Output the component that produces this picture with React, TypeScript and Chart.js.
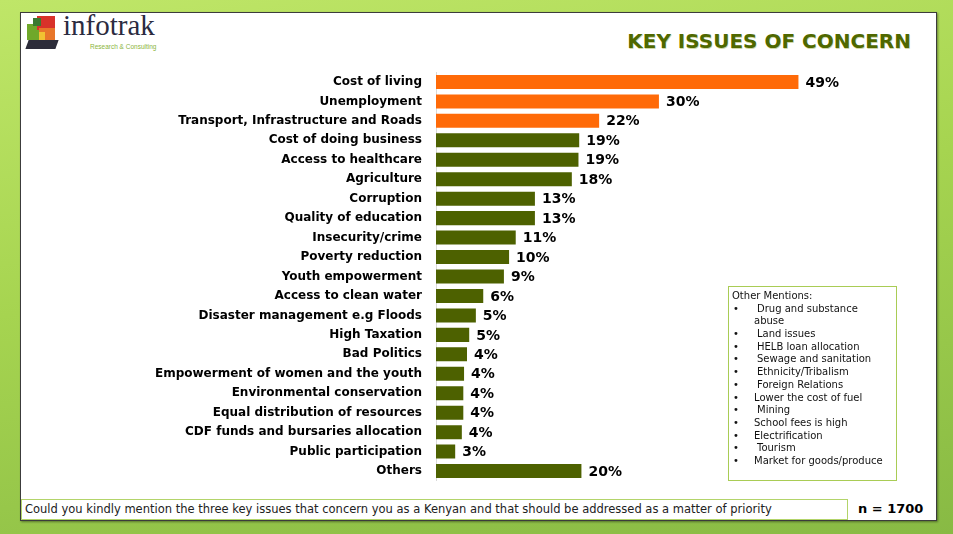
import React, { useEffect, useRef } from "react";
import { Chart, registerables } from "chart.js";

Chart.register(...registerables);

const categories = [
  "Cost of living",
  "Unemployment",
  "Transport, Infrastructure and Roads",
  "Cost of doing business",
  "Access to healthcare",
  "Agriculture",
  "Corruption",
  "Quality of education",
  "Insecurity/crime",
  "Poverty reduction",
  "Youth empowerment",
  "Access to clean water",
  "Disaster management e.g Floods",
  "High Taxation",
  "Bad Politics",
  "Empowerment of women and the youth",
  "Environmental conservation",
  "Equal distribution of resources",
  "CDF funds and bursaries allocation",
  "Public participation",
  "Others",
];

const barValues = [49.1, 30.2, 22.1, 19.4, 19.3, 18.4, 13.4, 13.4, 10.8, 9.9, 9.2, 6.4, 5.4, 4.5, 4.2, 3.8, 3.7, 3.7, 3.5, 2.6, 19.7];
const labelValues = [49, 30, 22, 19, 19, 18, 13, 13, 11, 10, 9, 6, 5, 5, 4, 4, 4, 4, 4, 3, 20];
const highlightedCount = 3;

const otherMentions: [string, boolean][] = [
  ["Drug and substance", true],
  ["abuse", false],
  ["Land issues", true],
  ["HELB loan allocation", true],
  ["Sewage and sanitation", true],
  ["Ethnicity/Tribalism", true],
  ["Foreign Relations", true],
  ["Lower the cost of fuel", false],
  ["Mining", true],
  ["School fees is high", false],
  ["Electrification", false],
  ["Tourism", true],
  ["Market for goods/produce", false],
];

const ORANGE = "#ff6a08";
const GREEN = "#4d6100";

const valueLabelPlugin = {
  id: "valueLabels",
  afterDatasetsDraw(chart: any) {
    const ctx = chart.ctx;
    const meta = chart.getDatasetMeta(0);
    ctx.save();
    ctx.font = "bold 14px 'DejaVu Sans'";
    ctx.fillStyle = "#000";
    ctx.textAlign = "left";
    ctx.textBaseline = "middle";
    meta.data.forEach((bar: any, i: number) => {
      ctx.fillText(labelValues[i] + "%", bar.x + 7, bar.y + 1);
    });
    ctx.restore();
  },
};

function Logo() {
  return (
    <div style={{ position: "absolute", left: 25, top: 14, width: 34, height: 36 }}>
      <div style={{ position: "absolute", left: 2, top: 10, width: 12, height: 16, background: "#6fa82a" }} />
      <div style={{ position: "absolute", left: 12, top: 2, width: 18, height: 14, background: "#d8322a" }} />
      <div style={{ position: "absolute", left: 14, top: 14, width: 16, height: 14, background: "#e8762a" }} />
      <div style={{ position: "absolute", left: 8, top: 4, width: 8, height: 8, background: "#3a7a30" }} />
      <div style={{ position: "absolute", left: 2, top: 26, width: 30, height: 9, background: "#2c2c3a", transform: "skewX(-20deg)" }} />
      <div style={{ position: "absolute", left: 14, top: 18, width: 6, height: 8, background: "#f1c232" }} />
    </div>
  );
}

export default function App() {
  const canvasRef = useRef<HTMLCanvasElement | null>(null);

  useEffect(() => {
    if (!canvasRef.current) return;
    const chart = new Chart(canvasRef.current, {
      type: "bar",
      data: {
        labels: categories,
        datasets: [
          {
            data: barValues,
            backgroundColor: barValues.map((_, i) => (i < highlightedCount ? ORANGE : GREEN)),
            borderWidth: 0,
            barPercentage: 0.72,
            categoryPercentage: 1.0,
          },
        ],
      },
      options: {
        indexAxis: "y",
        animation: false,
        responsive: false,
        maintainAspectRatio: false,
        devicePixelRatio: 1,
        layout: { padding: 0 },
        scales: {
          x: { display: false, min: 0, max: 55 },
          y: {
            afterFit: (scale: any) => {
              scale.width = 306;
            },
            grid: { display: false },
            border: { display: true, color: "#d9d9d9", width: 1 },
            ticks: {
              color: "#000",
              autoSkip: false,
              padding: 6,
              font: { family: "'DejaVu Sans'", weight: "bold", size: 12 },
            },
          },
        },
        plugins: {
          legend: { display: false },
          tooltip: { enabled: false },
        },
      },
      plugins: [valueLabelPlugin],
    } as any);
    return () => chart.destroy();
  }, []);

  return (
    <div
      style={{
        position: "absolute",
        left: 0,
        top: 0,
        width: 953,
        height: 534,
        overflow: "hidden",
        background: "linear-gradient(170deg, #bfe668 0%, #a6d450 45%, #88ba44 100%)",
      }}
    >
      <div
        style={{
          position: "absolute",
          left: 20,
          top: 12,
          width: 915,
          height: 507,
          background: "#fff",
          border: "1px solid #3c3c3c",
          boxShadow: "1px 1px 2px rgba(0,0,0,0.4)",
        }}
      />
      <Logo />
      <div
        style={{
          position: "absolute",
          left: 63,
          top: 8,
          fontFamily: "'Liberation Serif'",
          fontSize: 29,
          color: "#2b2b40",
          lineHeight: "34px",
        }}
      >
        infotrak
      </div>
      <div
        style={{
          position: "absolute",
          left: 90,
          top: 43,
          fontFamily: "'Liberation Sans'",
          fontSize: 6.5,
          color: "#8bb53c",
          whiteSpace: "nowrap",
        }}
      >
        Research &amp; Consulting
      </div>
      <div
        style={{
          position: "absolute",
          right: 953 - 911,
          top: 30,
          fontFamily: "'DejaVu Sans'",
          fontWeight: "bold",
          fontSize: 20,
          lineHeight: "22px",
          color: "#4f6800",
          textShadow: "0.5px 0.5px 0 #d0d8a8",
          whiteSpace: "nowrap",
        }}
      >
        KEY ISSUES OF CONCERN
      </div>
      <canvas
        ref={canvasRef}
        width={712}
        height={435}
        style={{ position: "absolute", left: 130, top: 59, width: 712, height: 435 }}
      />
      <div
        style={{
          position: "absolute",
          left: 728,
          top: 286,
          width: 169,
          height: 195,
          border: "1px solid #a9cc55",
          fontFamily: "'DejaVu Sans'",
          fontSize: 10,
          color: "#111",
          lineHeight: "12.7px",
          boxSizing: "border-box",
          paddingTop: 3,
        }}
      >
        <div style={{ paddingLeft: 3 }}>Other Mentions:</div>
        {otherMentions.map(([t, indent], i) => (
          <div key={i} style={{ position: "relative", height: 12.7, whiteSpace: "nowrap" }}>
            {t !== "abuse" && <span style={{ position: "absolute", left: 4 }}>•</span>}
            <span style={{ position: "absolute", left: indent ? 28 : 25 }}>{t}</span>
          </div>
        ))}
      </div>
      <div
        style={{
          position: "absolute",
          left: 21,
          top: 499,
          width: 827,
          height: 21,
          border: "1px solid #b3d46a",
          boxSizing: "border-box",
          fontFamily: "'DejaVu Sans'",
          fontSize: 11.5,
          lineHeight: "19px",
          color: "#222",
          paddingLeft: 3,
          whiteSpace: "nowrap",
        }}
      >
        Could you kindly mention the three key issues that concern you as a Kenyan and that should be addressed as a matter of priority
      </div>
      <div
        style={{
          position: "absolute",
          left: 858,
          top: 499,
          fontFamily: "'DejaVu Sans'",
          fontWeight: "bold",
          fontSize: 13,
          lineHeight: "20px",
          color: "#000",
          whiteSpace: "nowrap",
        }}
      >
        n = 1700
      </div>
    </div>
  );
}
